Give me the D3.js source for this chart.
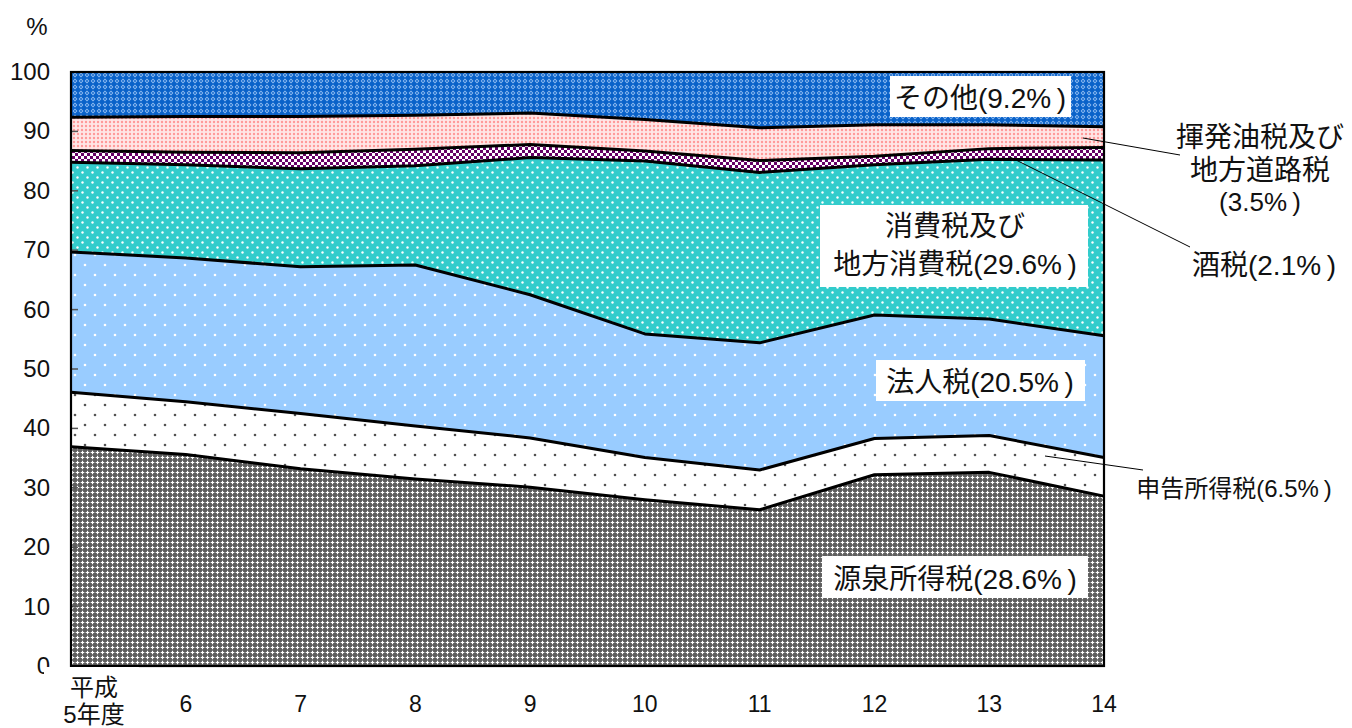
<!DOCTYPE html>
<html><head><meta charset="utf-8">
<script src="https://cdn.jsdelivr.net/npm/d3@7"></script>
<style>
html,body{margin:0;padding:0;background:#fff;}
svg{display:block;}
text{font-family:"Liberation Sans","Noto Sans CJK JP",sans-serif;fill:#111;}
</style></head>
<body>
<svg id="c" width="1352" height="728"></svg>
<script>
// ---- data (shares, % of total tax revenue) ----
const years = ["5","6","7","8","9","10","11","12","13","14"];
const yearLabels = ["平成\n5年度","6","7","8","9","10","11","12","13","14"];
const seriesNames = ["源泉所得税","申告所得税","法人税","消費税及び地方消費税","酒税","揮発油税及び地方道路税","その他"];
const gensen   = [36.9, 35.6, 33.2, 31.5, 30.1, 28.0, 26.3, 32.2, 32.6, 28.6];
const shinkoku = [ 9.2,  8.9,  9.3,  8.9,  8.3,  7.1,  6.7,  6.1,  6.2,  6.5];
const hojin    = [23.6, 24.2, 24.7, 27.1, 24.1, 20.8, 21.4, 20.8, 19.6, 20.5];
const shohi    = [15.1, 15.7, 16.5, 16.7, 23.1, 29.1, 28.7, 25.3, 26.9, 29.6];
const shuzei   = [ 2.0,  2.1,  2.7,  2.8,  2.2,  1.7,  2.0,  1.4,  1.8,  2.1];
const kihatsu  = [ 5.6,  6.0,  6.1,  5.7,  5.3,  5.3,  5.5,  5.3,  4.0,  3.5];
const sonota   = [ 7.6,  7.5,  7.5,  7.3,  6.9,  8.0,  9.4,  8.9,  8.9,  9.2];
const yTicks = [0,10,20,30,40,50,60,70,80,90,100];

const seriesValues = [gensen, shinkoku, hojin, shohi, shuzei, kihatsu, sonota];
const rows = years.map((yr,i)=>{const r={year:yr}; seriesNames.forEach((n,k)=>r[n]=seriesValues[k][i]); return r;});

const svg = d3.select("#c");
const L=71, R=1104, T=72, B=666;
const x = d3.scalePoint().domain(years).range([L,R]);
const y = d3.scaleLinear().domain([0,100]).range([B,T]);

// ---- patterns ----
const defs = svg.append("defs");
function pat(id,w,h,bg,draw){
  const p=defs.append("pattern").attr("id",id).attr("patternUnits","userSpaceOnUse").attr("width",w).attr("height",h);
  p.append("rect").attr("width",w).attr("height",h).attr("fill",bg);
  draw(p);
}
pat("p0",5,5,"#5e5e5e",p=>{p.append("path").attr("d","M2.5,0.7V4.3M0.7,2.5H4.3").attr("stroke","#fff").attr("stroke-width",1.2);});
pat("p1",20,20,"#fff",p=>{p.append("circle").attr("cx",5).attr("cy",5).attr("r",1.3).attr("fill","#555");
  p.append("circle").attr("cx",15).attr("cy",15).attr("r",1.3).attr("fill","#555");});
pat("p2",20,20,"#99ccff",p=>{p.append("circle").attr("cx",5).attr("cy",5).attr("r",1.3).attr("fill","#fff");
  p.append("circle").attr("cx",15).attr("cy",15).attr("r",1.3).attr("fill","#fff");});
pat("p3",10,10,"#33cccc",p=>{p.append("circle").attr("cx",2.5).attr("cy",2.5).attr("r",1.2).attr("fill","#fff");
  p.append("circle").attr("cx",7.5).attr("cy",7.5).attr("r",1.2).attr("fill","#fff");});
pat("p4",6,6,"#fff",p=>{p.append("rect").attr("x",0).attr("y",0).attr("width",3).attr("height",3).attr("fill","#660066");
  p.append("rect").attr("x",3).attr("y",3).attr("width",3).attr("height",3).attr("fill","#660066");});
pat("p5",4,4,"#ffe6e6",p=>{p.append("circle").attr("cx",2).attr("cy",2).attr("r",1.2).attr("fill","#ff9999");});
pat("p6",6,6,"#0a62c9",p=>{p.append("path").attr("d","M3,0.6L5.4,3L3,5.4L0.6,3Z").attr("fill","#8fbcf2");
  p.append("circle").attr("cx",3).attr("cy",3).attr("r",0.9).attr("fill","#0a62c9");});
const fills=["url(#p0)","url(#p1)","url(#p2)","url(#p3)","url(#p4)","url(#p5)","url(#p6)"];

const stack = d3.stack().keys(seriesNames);
const layers = stack(rows);
const area = d3.area().x(d=>x(d.data.year)).y0(d=>y(d[0])).y1(d=>y(d[1]));
const line = d3.line().x(d=>x(d.data.year)).y(d=>y(d[1]));

const g = svg.append("g");
g.selectAll("path.a").data(layers).join("path").attr("class","a")
  .attr("d",area).attr("fill",(d,i)=>fills[i]);
g.selectAll("path.l").data(layers.slice(0,-1)).join("path").attr("class","l")
  .attr("d",line).attr("fill","none").attr("stroke","#000").attr("stroke-width",3).attr("stroke-linejoin","round");

// ticks inside
svg.append("g").selectAll("line").data(yTicks.slice(1,-1)).join("line")
  .attr("x1",L).attr("x2",L+7).attr("y1",d=>y(d)).attr("y2",d=>y(d)).attr("stroke","#555").attr("stroke-width",1.5);
svg.append("g").selectAll("line").data(years.slice(1,-1)).join("line")
  .attr("x1",d=>x(d)).attr("x2",d=>x(d)).attr("y1",B).attr("y2",B-6).attr("stroke","#555").attr("stroke-width",1.5);

// frame
svg.append("rect").attr("x",L).attr("y",T).attr("width",R-L).attr("height",B-T)
  .attr("fill","none").attr("stroke","#000").attr("stroke-width",2.2);

// y labels
svg.append("g").selectAll("text").data(yTicks).join("text")
  .attr("x",50).attr("y",d=>y(d)+8).attr("text-anchor","end").attr("font-size",24).text(d=>d);
svg.append("text").attr("x",37).attr("y",35).attr("text-anchor","middle").attr("font-size",24).text("%");

// x labels
svg.append("rect").attr("x",44).attr("y",667).attr("width",95).attr("height",61).attr("fill","#fff");
yearLabels.forEach((lab,i)=>{
  const parts=lab.split("\n");
  if(parts.length>1){
    const t=svg.append("text").attr("x",94).attr("text-anchor","middle").attr("font-size",24);
    t.append("tspan").attr("x",94).attr("y",696).text(parts[0]);
    t.append("tspan").attr("x",94).attr("y",723).text(parts[1]);
  } else {
    svg.append("text").attr("x",x(years[i])).attr("y",712).attr("text-anchor","middle").attr("font-size",23).text(lab);
  }
});

// in-chart labels
function boxLabel(x0,y0,w,h,lines,cx,ys){
  svg.append("rect").attr("x",x0).attr("y",y0).attr("width",w).attr("height",h).attr("fill","#fff");
  lines.forEach((s,i)=>svg.append("text").attr("x",cx).attr("y",ys[i]).attr("text-anchor","middle").attr("font-size",28).text(s));
}
boxLabel(890,76,181,41,["その他(9.2%\u2009)"],980,[108]);
boxLabel(820,205,268,82,["消費税及び","地方消費税(29.6%\u2009)"],955,[236,274]);
boxLabel(876,360,209,41,["法人税(20.5%\u2009)"],980,[392]);
boxLabel(822,556,266,42,["源泉所得税(28.6%\u2009)"],955,[589]);

// leader lines
const leaders=[[1083,138,1180,155],[1010,157,1190,247],[1045,456,1143,470]];
svg.append("g").selectAll("line").data(leaders).join("line")
  .attr("x1",d=>d[0]).attr("y1",d=>d[1]).attr("x2",d=>d[2]).attr("y2",d=>d[3]).attr("stroke","#000").attr("stroke-width",1);

// outside labels
const outs=[["揮発油税及び",1260,147,28],["地方道路税",1260,180,28],["(3.5%\u2009)",1260,211,26],["酒税(2.1%\u2009)",1264,275,28],["申告所得税(6.5%\u2009)",1234,497,24]];
outs.forEach(o=>svg.append("text").attr("x",o[1]).attr("y",o[2]).attr("text-anchor","middle").attr("font-size",o[3]).text(o[0]));
</script>
</body></html>
